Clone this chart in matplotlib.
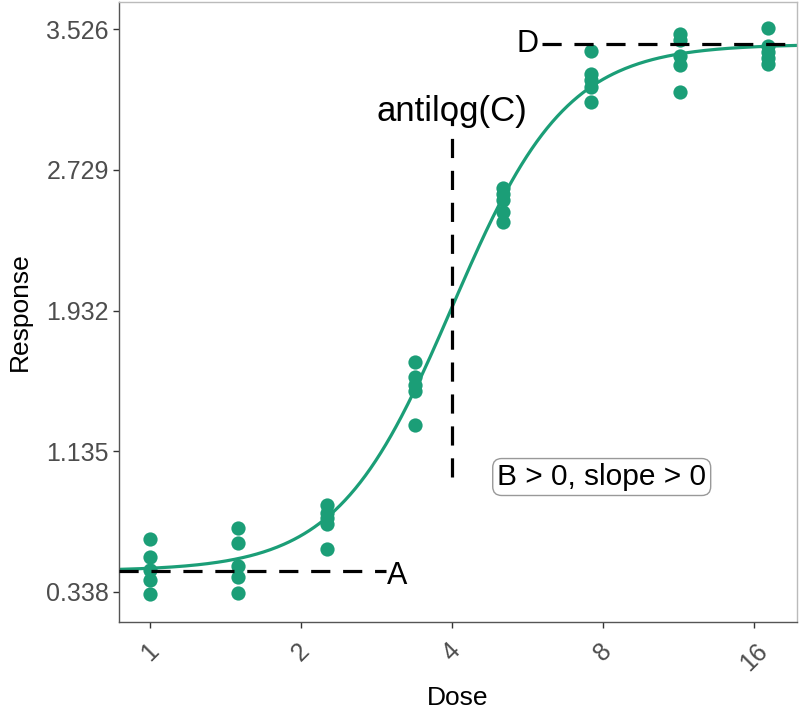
import numpy as np
import matplotlib
matplotlib.use('Agg')
import matplotlib.pyplot as plt

plt.rcParams['font.family'] = ['Liberation Sans', 'DejaVu Sans']

# data
doses = [1, 1.5, 2.25, 3.375, 5.06, 7.59, 11.39, 17.09]
responses = [
    [0.638, 0.536, 0.463, 0.406, 0.327],
    [0.700, 0.615, 0.485, 0.423, 0.332],
    [0.831, 0.785, 0.757, 0.723, 0.582],
    [1.640, 1.555, 1.510, 1.476, 1.284],
    [2.626, 2.592, 2.558, 2.490, 2.433],
    [3.401, 3.271, 3.237, 3.198, 3.113],
    [3.498, 3.464, 3.373, 3.322, 3.169],
    [3.532, 3.430, 3.396, 3.362, 3.328],
]
y_ticks = [0.338, 1.135, 1.932, 2.729, 3.526]
x_ticks = [1, 2, 4, 8, 16]

# 4PL parameters
A = 0.457
B = 3.8
C = np.log(4)
D = 3.441

green = '#1B9E77'

fig = plt.figure(figsize=(8, 7.1), dpi=100)
ax = fig.add_axes([0.149, 0.124, 0.847, 0.873])

xs = []
ys = []
for d, r in zip(doses, responses):
    xs.extend([d] * len(r))
    ys.extend(r)
ax.scatter(xs, ys, s=105, color=green, zorder=3, linewidths=0)

xx = np.exp(np.linspace(np.log(0.868), np.log(19.5), 400))
yy = A + (D - A) / (1 + np.exp(-B * (np.log(xx) - C)))
ax.plot(xx, yy, color=green, lw=2.3, zorder=2)

dash = dict(color='black', lw=2.3, dashes=(6, 4), zorder=4)
ax.plot([0.868, 2.95], [A, A], **dash)
ax.plot([6.05, 19.5], [D, D], **dash)
ax.plot([4, 4], [0.989, 3.016], **dash)

ax.text(2.97, A - 0.03, 'A', fontsize=22, ha='left', va='center')
ax.text(5.95, D, 'D', fontsize=22, ha='right', va='center')
ax.text(4, 3.062, 'antilog(C)', fontsize=25, ha='center', va='center')
ax.text(7.96, 0.989, 'B > 0, slope > 0', fontsize=21.5, ha='center', va='center',
        bbox=dict(boxstyle='round,pad=0.15,rounding_size=0.3', fc='white', ec='#999999', lw=1))

ax.set_xscale('log', base=2)
ax.set_xlim(0.868, 19.5)
ax.set_ylim(0.168, 3.679)
ax.set_xticks(x_ticks)
ax.set_xticklabels([str(t) for t in x_ticks], rotation=45, ha='center', va='top')
ax.minorticks_off()
ax.set_yticks(y_ticks)
ax.set_yticklabels(['%.3f' % t for t in y_ticks])
ax.tick_params(labelsize=18, labelcolor='#4D4D4D', color='#333333', length=4, width=1)
ax.tick_params(axis='x', pad=8)

for side in ['top', 'right']:
    ax.spines[side].set_color('#BBBBBB')
for side in ['left', 'bottom']:
    ax.spines[side].set_color('#555555')
for s in ax.spines.values():
    s.set_linewidth(1)

ax.set_xlabel('Dose', fontsize=19, labelpad=8)
ax.set_ylabel('Response', fontsize=19, labelpad=10)

fig.savefig('out.png', dpi=100)
